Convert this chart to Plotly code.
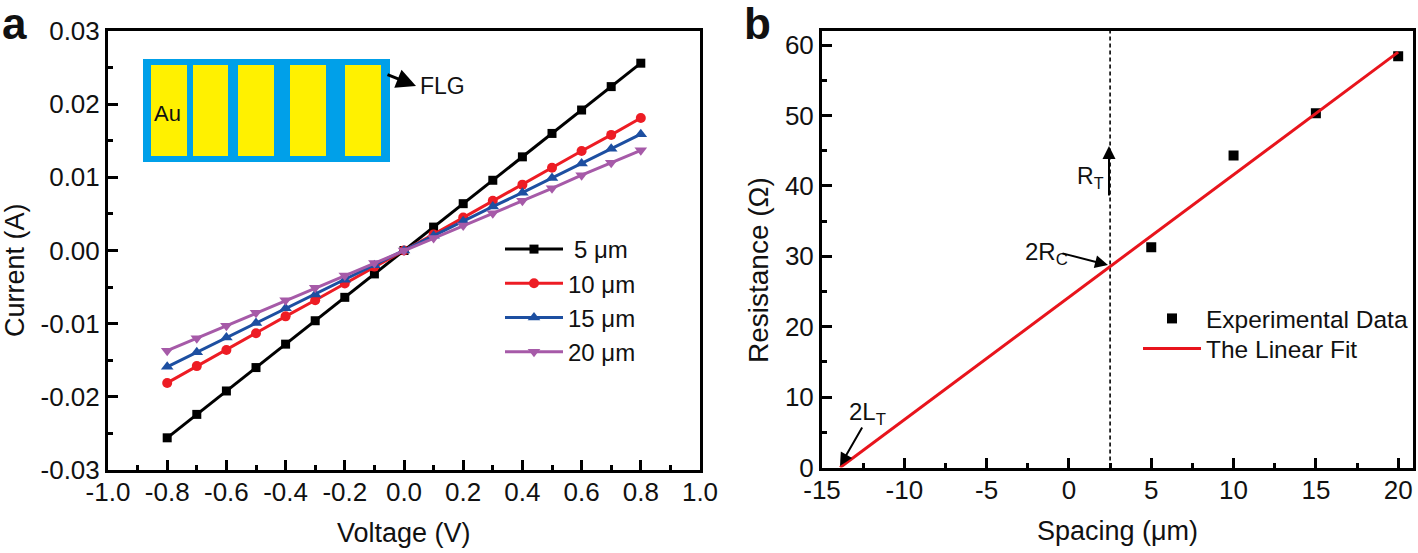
import plotly.graph_objects as go

W, H = 1418, 553
ML, MR, MT, MB = 108, 5, 31, 83
FONT = "Liberation Sans"

voltage = [-0.8, -0.7, -0.6, -0.5, -0.4, -0.3, -0.2, -0.1, 0.0, 0.1, 0.2, 0.3, 0.4, 0.5, 0.6, 0.7, 0.8]
i_5um = [-0.0256, -0.0224, -0.0192, -0.016, -0.0128, -0.0096, -0.0064, -0.0032, 0.0, 0.0032, 0.0064, 0.0096, 0.0128, 0.016, 0.0192, 0.0224, 0.0256]
i_10um = [-0.0181, -0.0158, -0.0136, -0.0113, -0.009, -0.0068, -0.0045, -0.0022, 0.0, 0.0022, 0.0045, 0.0068, 0.009, 0.0113, 0.0136, 0.0158, 0.0181]
i_15um = [-0.0159, -0.0139, -0.0119, -0.0099, -0.0079, -0.006, -0.004, -0.002, 0.0, 0.002, 0.004, 0.006, 0.0079, 0.0099, 0.0119, 0.0139, 0.0159]
i_20um = [-0.0137, -0.012, -0.0103, -0.0085, -0.0068, -0.0051, -0.0034, -0.0017, 0.0, 0.0017, 0.0034, 0.0051, 0.0068, 0.0085, 0.0103, 0.012, 0.0137]

spacing = [5, 10, 15, 20]
resistance = [31.3, 44.3, 50.3, 58.4]
fit_x = [-13.9, 20]
fit_y = [0, 59]
transfer_x = [2.5, 2.5]
transfer_y = [0, 62]

a_xticks = [-1.0, -0.8, -0.6, -0.4, -0.2, 0.0, 0.2, 0.4, 0.6, 0.8, 1.0]
a_xlabels = ["-1.0", "-0.8", "-0.6", "-0.4", "-0.2", "0.0", "0.2", "0.4", "0.6", "0.8", "1.0"]
a_yticks = [-0.03, -0.02, -0.01, 0.0, 0.01, 0.02, 0.03]
a_ylabels = ["-0.03", "-0.02", "-0.01", "0.00", "0.01", "0.02", "0.03"]
b_xticks = [-15, -10, -5, 0, 5, 10, 15, 20]
b_xlabels = ["-15", "-10", "-5", "0", "5", "10", "15", "20"]
b_yticks = [0, 10, 20, 30, 40, 50, 60]
b_ylabels = ["0", "10", "20", "30", "40", "50", "60"]


def px(x):
    return (x - ML) / (W - ML - MR)


def py(y):
    return 1 - (y - MT) / (H - MT - MB)


fig = go.Figure()
series = [
    ("\u20055 μm", i_5um, "#000000", "square", 9),
    ("10 μm", i_10um, "#ED1C24", "circle", 10),
    ("15 μm", i_15um, "#1D4FA1", "triangle-up", 11),
    ("20 μm", i_20um, "#A65AA8", "triangle-down", 11),
]
for name, vals, col, sym, size in series:
    fig.add_trace(go.Scatter(x=voltage, y=vals, name=name, mode="lines+markers",
                             line=dict(color=col, width=3),
                             marker=dict(color=col, symbol=sym, size=size),
                             xaxis="x", yaxis="y", legend="legend"))

fig.add_trace(go.Scatter(x=transfer_x, y=transfer_y, mode="lines", showlegend=False,
                         line=dict(color="#000000", width=1.6, dash="4px,3px"),
                         xaxis="x2", yaxis="y2"))
fig.add_trace(go.Scatter(x=spacing, y=resistance, name="Experimental Data", mode="markers",
                         marker=dict(color="#000000", symbol="square", size=10),
                         xaxis="x2", yaxis="y2", legend="legend2"))
fig.add_trace(go.Scatter(x=fit_x, y=fit_y, name="The Linear Fit", mode="lines",
                         line=dict(color="#E8141C", width=3),
                         xaxis="x2", yaxis="y2", legend="legend3"))


def axis(domain, rng, tickvals, ticktext, minor, anchor, standoff=0):
    return dict(domain=domain, range=rng, tickvals=tickvals, ticktext=ticktext, anchor=anchor,
                showgrid=False, zeroline=False, showline=True, mirror=True, linecolor="#000000",
                linewidth=3, ticks="inside", ticklen=10, tickwidth=2.5, tickcolor="#000000",
                ticklabelstandoff=standoff,
                minor=dict(ticks="inside", ticklen=5, tickwidth=2.5, tickcolor="#000000",
                           dtick=minor, tick0=0, showgrid=False),
                tickfont=dict(size=26, family=FONT, color="#111111"))


def legend(x, y, size):
    return dict(x=px(x), y=py(y), xanchor="left", yanchor="top", bgcolor="rgba(0,0,0,0)",
                font=dict(size=size, family=FONT, color="#111111"), itemwidth=58, tracegroupgap=0,
                itemclick=False, itemdoubleclick=False)


shapes = [dict(type="rect", xref="paper", yref="paper", x0=px(143), x1=px(390), y0=py(162), y1=py(59),
               fillcolor="#00A0E9", line=dict(width=0), layer="below")]
for x0, x1 in [(151, 187), (193, 228), (238, 274), (290, 326), (345, 381)]:
    shapes.append(dict(type="rect", xref="paper", yref="paper", x0=px(x0), x1=px(x1), y0=py(156), y1=py(65),
                       fillcolor="#FFF100", line=dict(width=0), layer="below"))


def text(s, x, y, size=21, bold=False, angle=0):
    return dict(text=f"<b>{s}</b>" if bold else s, xref="paper", yref="paper", x=px(x), y=py(y),
                xanchor="center", yanchor="middle", showarrow=False, textangle=angle,
                font=dict(size=size, family=FONT, color="#111111"))


def arrow(x0, y0, x1, y1, width=2):
    return dict(text="", xref="paper", yref="paper", x=px(x1), y=py(y1), ax=x0 - x1, ay=y0 - y1,
                axref="pixel", ayref="pixel", showarrow=True, arrowhead=2, arrowsize=1.3,
                arrowwidth=width, arrowcolor="#000000")


annotations = [
    text("a", 14, 24, size=44, bold=True),
    text("b", 757, 24, size=44, bold=True),
    text("Voltage (V)", 404, 533, size=27),
    text("Current (A)", 15, 270, size=27, angle=-90),
    text("Spacing (μm)", 1117, 531, size=27),
    text("Resistance (Ω)", 758, 270, size=28, angle=-90),
    text("Au", 167, 113, size=22),
    text("FLG", 442, 86, size=23),
    text("R<sub>T</sub>", 1090, 177, size=23),
    text("2R<sub>C</sub>", 1046, 253, size=24),
    text("2L<sub>T</sub>", 867, 413, size=24),
    arrow(386, 74, 416, 86, width=3),
    arrow(1109, 197, 1109, 146),
    arrow(1061, 253, 1108, 265),
    arrow(863, 426, 840, 466),
]

fig.update_layout(
    width=W, height=H, autosize=False, margin=dict(l=ML, r=MR, t=MT, b=MB, autoexpand=False),
    paper_bgcolor="#FFFFFF", plot_bgcolor="rgba(0,0,0,0)",
    xaxis=axis([px(108), px(700)], [-1, 1], a_xticks, a_xlabels, 0.1, "y", standoff=-3),
    yaxis=axis([py(470), py(31)], [-0.03, 0.03], a_yticks, a_ylabels, 0.005, "x"),
    xaxis2=axis([px(822), px(1413)], [-15, 20.9], b_xticks, b_xlabels, 2.5, "y2", standoff=-3),
    yaxis2=axis([py(467.5), py(31)], [0, 62], b_yticks, b_ylabels, 5, "x2"),
    legend=legend(500, 227, 24),
    legend2=legend(1138, 296, 24.5),
    legend3=legend(1138, 326, 24.5),
    shapes=shapes, annotations=annotations,
)

fig.write_html("out.html", post_script="document.body.style.margin='0';document.body.style.overflow='hidden';",
               config=dict(displayModeBar=False))
